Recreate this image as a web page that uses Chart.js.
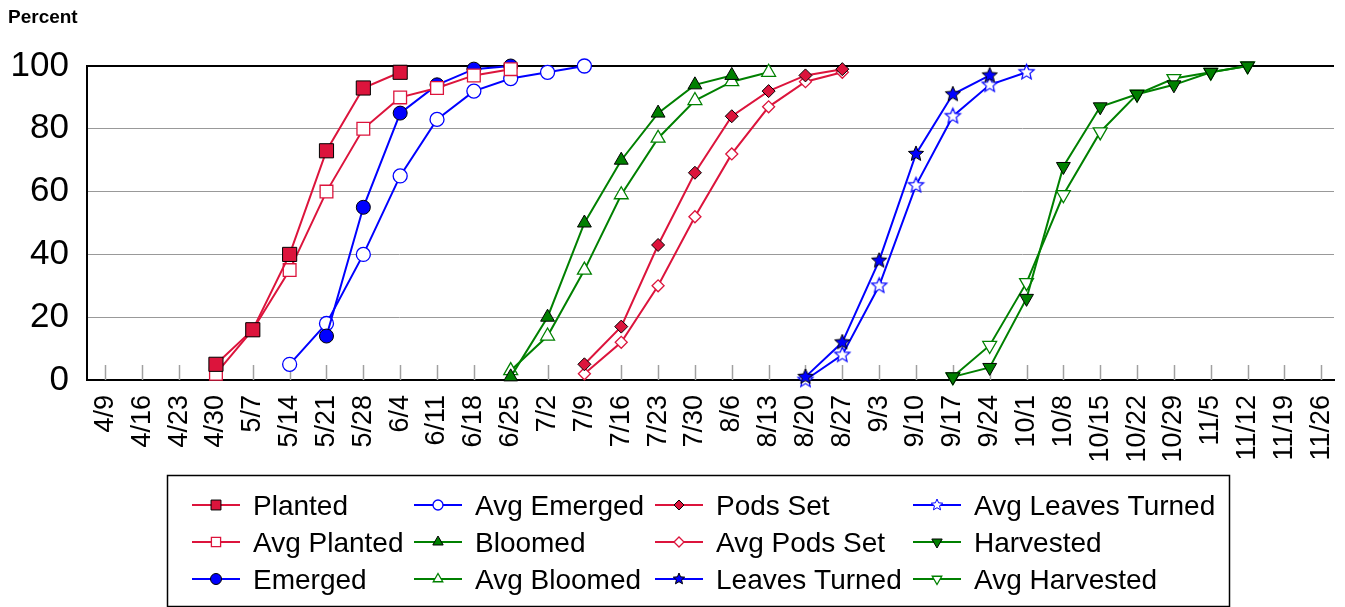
<!DOCTYPE html>
<html>
<head>
<meta charset="utf-8">
<script src="https://cdn.jsdelivr.net/npm/chart.js@4.4.1/dist/chart.umd.min.js"></script>
<style>
  html, body { margin: 0; padding: 0; background: #fff; }
  #wrap { width: 1345px; height: 607px; }
</style>
</head>
<body>
<div id="wrap"><canvas id="progressChart" width="1345" height="607"></canvas></div>
<script>
// Week labels on the x axis
const weekLabels = ['4/9', '4/16', '4/23', '4/30', '5/7', '5/14', '5/21', '5/28', '6/4', '6/11', '6/18', '6/25',
    '7/2', '7/9', '7/16', '7/23', '7/30', '8/6', '8/13', '8/20', '8/27', '9/3', '9/10', '9/17', '9/24',
    '10/1', '10/8', '10/15', '10/22', '10/29', '11/5', '11/12', '11/19', '11/26'];
const yTicks = [0, 20, 40, 60, 80, 100];

// Percent values per week (null = not reported)
const _ = null;
const planted          = [_, _, _, 5, 16, 40, 73, 93, 98, _, _, _, _, _, _, _, _, _, _, _, _, _, _, _, _, _, _, _, _, _, _, _, _, _];
const avgPlanted       = [_, _, _, 2, 16, 35, 60, 80, 90, 93, 97, 99, _, _, _, _, _, _, _, _, _, _, _, _, _, _, _, _, _, _, _, _, _, _];
const emerged          = [_, _, _, _, _, _, 14, 55, 85, 94, 99, 100, _, _, _, _, _, _, _, _, _, _, _, _, _, _, _, _, _, _, _, _, _, _];
const avgEmerged       = [_, _, _, _, _, 5, 18, 40, 65, 83, 92, 96, 98, 100, _, _, _, _, _, _, _, _, _, _, _, _, _, _, _, _, _, _, _, _];
const bloomed          = [_, _, _, _, _, _, _, _, _, _, _, 1, 20, 50, 70, 85, 94, 97, _, _, _, _, _, _, _, _, _, _, _, _, _, _, _, _];
const avgBloomed       = [_, _, _, _, _, _, _, _, _, _, _, 3, 14, 35, 59, 77, 89, 95, 98, _, _, _, _, _, _, _, _, _, _, _, _, _, _, _];
const podsSet          = [_, _, _, _, _, _, _, _, _, _, _, _, _, 5, 17, 43, 66, 84, 92, 97, 99, _, _, _, _, _, _, _, _, _, _, _, _, _];
const avgPodsSet       = [_, _, _, _, _, _, _, _, _, _, _, _, _, 2, 12, 30, 52, 72, 87, 95, 98, _, _, _, _, _, _, _, _, _, _, _, _, _];
const leavesTurned     = [_, _, _, _, _, _, _, _, _, _, _, _, _, _, _, _, _, _, _, 1, 12, 38, 72, 91, 97, _, _, _, _, _, _, _, _, _];
const avgLeavesTurned  = [_, _, _, _, _, _, _, _, _, _, _, _, _, _, _, _, _, _, _, 0, 8, 30, 62, 84, 94, 98, _, _, _, _, _, _, _, _];
const harvested        = [_, _, _, _, _, _, _, _, _, _, _, _, _, _, _, _, _, _, _, _, _, _, _, 1, 4, 26, 68, 87, 91, 94, 98, 100, _, _];
const avgHarvested     = [_, _, _, _, _, _, _, _, _, _, _, _, _, _, _, _, _, _, _, _, _, _, _, 1, 11, 31, 59, 79, 91, 96, 98, 100, _, _];

const RED = '#dc143c';
const BLUE = '#0000ff';
const GREEN = '#008000';
const FONT = '"Liberation Sans", Arial, Helvetica, sans-serif';

// 5 point star marker (Chart.js only has the asterisk style)
function makeStar(r, fill, stroke, lw) {
    const c = document.createElement('canvas');
    const s = Math.ceil(r * 2 + lw * 2 + 2);
    c.width = s;
    c.height = s;
    const g = c.getContext('2d');
    g.beginPath();
    for (let k = 0; k < 10; k++) {
        const rad = k % 2 ? r * 0.45 : r;
        const a = -Math.PI / 2 + k * Math.PI / 5;
        const px = s / 2 + rad * Math.cos(a);
        const py = s / 2 + rad * Math.sin(a);
        if (k === 0) g.moveTo(px, py); else g.lineTo(px, py);
    }
    g.closePath();
    g.fillStyle = fill;
    g.fill();
    g.lineWidth = lw;
    g.strokeStyle = stroke;
    g.stroke();
    return c;
}

function toPoints(arr) {
    return arr.map((v, i) => (v === null ? null : { x: i, y: v })).filter(p => p);
}

// Builds one line dataset. filled markers get a black outline, open markers a white centre
function series(label, values, color, style, filled, radius, legendRadius, rotation) {
    return {
        label: label,
        data: toPoints(values),
        borderColor: color,
        borderWidth: 2,
        tension: 0,
        pointStyle: style,
        pointRotation: rotation || 0,
        pointRadius: radius,
        pointHoverRadius: radius,
        pointBackgroundColor: filled ? color : '#fff',
        pointBorderColor: filled ? '#000' : color,
        pointBorderWidth: filled ? 1 : 1.3,
        legendRadius: legendRadius
    };
}

const datasets = [
    series('Planted', planted, RED, 'rect', true, 10, 7),
    series('Avg Planted', avgPlanted, RED, 'rect', false, 9, 6.5),
    series('Emerged', emerged, BLUE, 'circle', true, 7, 5.5),
    series('Avg Emerged', avgEmerged, BLUE, 'circle', false, 7, 5),
    series('Bloomed', bloomed, GREEN, 'triangle', true, 8, 6),
    series('Avg Bloomed', avgBloomed, GREEN, 'triangle', false, 8, 5.5),
    series('Pods Set', podsSet, RED, 'rectRot', true, 6.5, 5),
    series('Avg Pods Set', avgPodsSet, RED, 'rectRot', false, 6, 5),
    series('Leaves Turned', leavesTurned, BLUE, makeStar(8, BLUE, '#000', 1), true, 8, 5.5),
    series('Avg Leaves Turned', avgLeavesTurned, BLUE, makeStar(8, '#fff', BLUE, 1.2), false, 8, 5.5),
    series('Harvested', harvested, GREEN, 'triangle', true, 8, 6, 180),
    series('Avg Harvested', avgHarvested, GREEN, 'triangle', false, 8, 5.5, 180)
];
// smaller stars for the legend
datasets[8].legendStyle = makeStar(6, BLUE, '#000', 1);
datasets[9].legendStyle = makeStar(6, '#fff', BLUE, 1);

// Legend layout: 4 columns x 3 rows, filled column by column
const legendCols = [192, 414, 655, 913];
const legendRows = [505, 542, 579];

const legendGrid = {
    id: 'legendGrid',
    afterDraw(chart) {
        const ctx = chart.ctx;
        ctx.save();
        ctx.strokeStyle = '#000';
        ctx.lineWidth = 1.5;
        ctx.strokeRect(167.5, 475.5, 1062, 131);
        chart.data.datasets.forEach((ds, i) => {
            const x = legendCols[Math.floor(i / 3)];
            const y = legendRows[i % 3];
            ctx.strokeStyle = ds.borderColor;
            ctx.lineWidth = 2;
            ctx.beginPath();
            ctx.moveTo(x, y);
            ctx.lineTo(x + 48, y);
            ctx.stroke();
            ctx.fillStyle = ds.pointBackgroundColor;
            ctx.strokeStyle = ds.pointBorderColor;
            ctx.lineWidth = ds.pointBorderWidth;
            Chart.helpers.drawPoint(ctx, {
                pointStyle: ds.legendStyle || ds.pointStyle,
                rotation: ds.pointRotation,
                radius: ds.legendRadius,
                borderWidth: ds.pointBorderWidth
            }, x + 24, y);
            ctx.fillStyle = '#000';
            ctx.font = '28px ' + FONT;
            ctx.textBaseline = 'middle';
            ctx.textAlign = 'left';
            ctx.fillText(ds.label, x + 61, y + 2);
        });
        // "Percent" caption above the y axis
        ctx.font = 'bold 19px ' + FONT;
        ctx.textBaseline = 'middle';
        ctx.fillText('Percent', 8, 18);
        ctx.restore();
    }
};

// Short tick marks inside the plot, standing on the x axis
const innerTicks = {
    id: 'innerTicks',
    beforeDatasetsDraw(chart) {
        const ctx = chart.ctx;
        const xs = chart.scales.x;
        const bottom = chart.chartArea.bottom;
        ctx.save();
        ctx.strokeStyle = '#a0a0a0';
        ctx.lineWidth = 1.5;
        weekLabels.forEach((lbl, i) => {
            const px = Math.round(xs.getPixelForValue(i)) + 0.5;
            ctx.beginPath();
            ctx.moveTo(px, bottom - 15);
            ctx.lineTo(px, bottom);
            ctx.stroke();
        });
        ctx.restore();
    }
};

new Chart(document.getElementById('progressChart'), {
    type: 'line',
    data: { datasets: datasets },
    plugins: [innerTicks, legendGrid],
    options: {
        responsive: false,
        devicePixelRatio: 1,
        animation: false,
        clip: false,
        layout: { padding: { top: 66, left: 0, right: 0, bottom: 0 } },
        plugins: {
            legend: { display: false },
            tooltip: { enabled: false },
            title: { display: false }
        },
        scales: {
            x: {
                type: 'linear',
                min: -0.5,
                max: 33.345,
                afterBuildTicks: scale => {
                    scale.ticks = weekLabels.map((lbl, i) => ({ value: i }));
                },
                afterFit: scale => {
                    scale.height = 227;
                    scale.paddingLeft = 0;
                    scale.paddingRight = 0;
                },
                ticks: {
                    autoSkip: false,
                    minRotation: 90,
                    maxRotation: 90,
                    padding: 15,
                    color: '#000',
                    font: { family: FONT, size: 27 },
                    callback: value => weekLabels[value]
                },
                grid: { display: true, drawOnChartArea: false, drawTicks: false },
                border: { display: true, color: '#000', width: 2 }
            },
            y: {
                min: 0,
                max: 100,
                afterBuildTicks: scale => {
                    scale.ticks = yTicks.map(v => ({ value: v }));
                },
                afterFit: scale => {
                    scale.width = 87;
                    scale.paddingTop = 0;
                    scale.paddingBottom = 0;
                },
                ticks: {
                    padding: 18,
                    color: '#000',
                    font: { family: FONT, size: 35 }
                },
                grid: {
                    drawTicks: false,
                    color: c => (c.tick && c.tick.value === 100 ? '#000' : '#999'),
                    lineWidth: c => (c.tick && c.tick.value === 100 ? 2 : 1)
                },
                border: { display: true, color: '#000', width: 2 }
            }
        }
    }
});
</script>
</body>
</html>
